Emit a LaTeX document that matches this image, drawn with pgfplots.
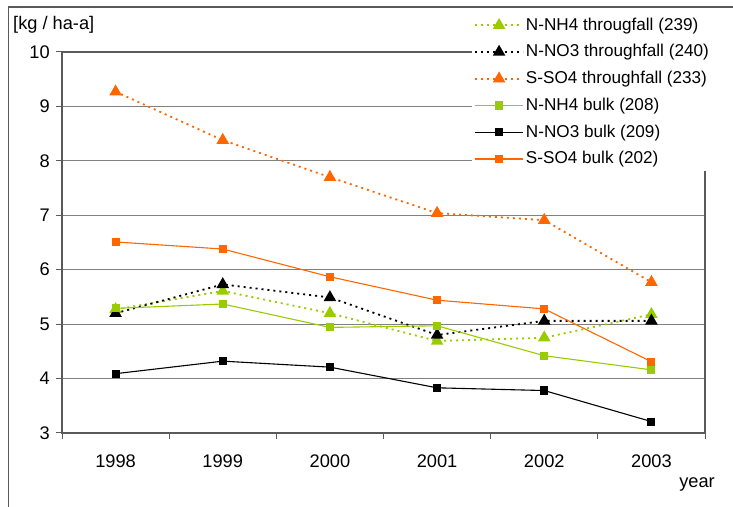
\documentclass[border=0pt]{standalone}
\usepackage{fontspec}
\setmainfont{Liberation Sans}
\usepackage{pgfplots}
\pgfplotsset{compat=1.18}
\definecolor{cgreen}{RGB}{153,204,0}
\definecolor{corange}{RGB}{255,102,0}
\definecolor{cgrid}{RGB}{128,128,128}
\definecolor{caxis}{RGB}{90,90,90}
\begin{document}
\fontsize{18.3}{21}\selectfont
\begin{tikzpicture}
\useasboundingbox (0bp,0bp) rectangle (733bp,507bp);
\draw[caxis, line width=1.2bp] (8.5bp,0bp) -- (8.5bp,500bp) -- (733bp,500bp);
\begin{axis}[
 at={(62bp,74bp)}, anchor=south west,
 scale only axis, width=643bp, height=381bp,
 xmin=0.5, xmax=6.5, ymin=3, ymax=10,
 xtick={1,2,3,4,5,6}, xticklabels={1998,1999,2000,2001,2002,2003},
 minor xtick={0.5,1.5,2.5,3.5,4.5,5.5,6.5},
 ytick={3,4,5,6,7,8,9,10},
 xtick pos=bottom, ytick pos=left,
 tick align=outside,
 major tick length=6bp, minor tick length=6bp,
 major x tick style={draw=none},
 tick style={caxis, line width=1bp},
 ymajorgrids, major grid style={cgrid, line width=1bp},
 axis line style={caxis, line width=1.3bp},
 /pgf/number format/assume math mode=true,
 tick label style={font=\fontsize{18.3}{21}\selectfont},
 xticklabel style={yshift=-9bp},
 legend style={at={(axis description cs:0.6376,1.101)}, anchor=north west, draw=none, fill=white, inner sep=2bp, row sep=7.6bp, font=\fontsize{17.2}{20}\selectfont, /tikz/every even column/.append style={column sep=4bp}},
 legend cell align=left,
 legend image code/.code={\draw[mark repeat=2,mark phase=2,#1] plot coordinates {(0bp,0bp) (24bp,0bp) (48bp,0bp)};},
 thr/.style={line width=1.8bp, dash pattern=on 2bp off 4bp, mark=triangle*, mark size=5.5bp, mark options={solid}},
 blk/.style={line width=1.1bp, mark=square*, mark size=3.5bp, mark options={solid}},
]
\addplot[thr, color=cgreen] coordinates {(1,5.27) (2,5.61) (3,5.20) (4,4.69) (5,4.75) (6,5.18)};
\addlegendentry{N-NH4 througfall (239)}
\addplot[thr, color=black] coordinates {(1,5.20) (2,5.73) (3,5.49) (4,4.80) (5,5.06) (6,5.06)};
\addlegendentry{N-NO3 throughfall (240)}
\addplot[thr, color=corange] coordinates {(1,9.27) (2,8.38) (3,7.70) (4,7.04) (5,6.91) (6,5.77)};
\addlegendentry{S-SO4 throughfall (233)}
\addplot[blk, color=cgreen] coordinates {(1,5.29) (2,5.37) (3,4.94) (4,4.97) (5,4.42) (6,4.16)};
\addlegendentry{N-NH4 bulk (208)}
\addplot[blk, color=black] coordinates {(1,4.09) (2,4.32) (3,4.21) (4,3.83) (5,3.78) (6,3.21)};
\addlegendentry{N-NO3 bulk (209)}
\addplot[blk, color=corange] coordinates {(1,6.51) (2,6.38) (3,5.87) (4,5.44) (5,5.28) (6,4.31)};
\addlegendentry{S-SO4 bulk (202)}
\end{axis}
\node[anchor=base west, inner sep=0pt] at (13bp,477.5bp) {[kg / ha-a]};
\node[anchor=base east, inner sep=0pt] at (715bp,20bp) {year};
\end{tikzpicture}
\end{document}
